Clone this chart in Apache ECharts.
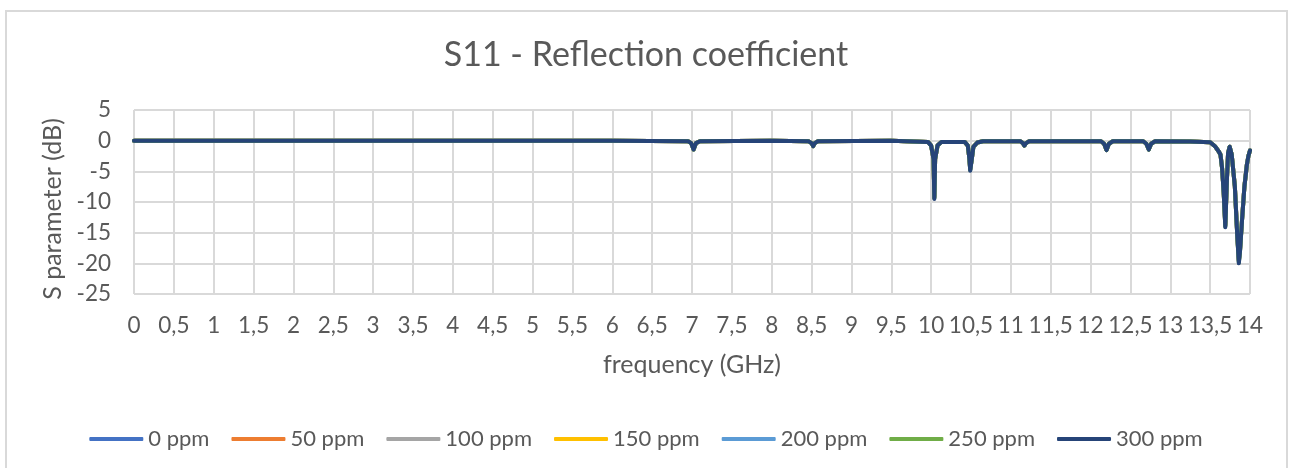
<!DOCTYPE html>
<html>
<head>
<meta charset="utf-8">
<title>S11 - Reflection coefficient</title>
<script src="https://cdn.jsdelivr.net/npm/echarts@6/dist/echarts.min.js"></script>
<style>
  html, body { margin: 0; padding: 0; background: #ffffff; }
  #chart { width: 1292px; height: 468px; }
</style>
</head>
<body>
<div id="chart"></div>
<script>
// Sweep frequencies (GHz)
const frequencyGHz = [
  0, 1, 2, 3, 4, 5, 6,
  6.95, 6.99, 7.02, 7.05, 7.1,
  8,
  8.46, 8.5, 8.52, 8.54, 8.58,
  9.5,
  9.96, 10.0, 10.03, 10.04, 10.05, 10.08, 10.13,
  10.42, 10.46, 10.48, 10.49, 10.51, 10.53, 10.58, 10.65,
  11.12, 11.15, 11.17, 11.19, 11.23,
  12.13, 12.17, 12.2, 12.23, 12.28,
  12.66, 12.7, 12.73, 12.76, 12.81,
  13.25, 13.5, 13.56, 13.61, 13.63, 13.65, 13.67, 13.69, 13.71, 13.725, 13.745,
  13.77, 13.81, 13.84, 13.86, 13.875, 13.9, 13.93, 13.96, 13.98, 14.0
];

// S11 (dB) for each concentration
const s11_0ppm = [
  0, 0, 0, 0, 0, 0, 0,
  -0.1, -0.4, -1.4, -0.4, -0.1,
  0,
  -0.1, -0.4, -0.85, -0.4, -0.1,
  0,
  -0.2, -0.8, -3, -9.0, -3, -0.8, -0.2,
  -0.2, -0.8, -3, -4.6, -3, -1, -0.3, -0.1,
  -0.1, -0.4, -0.75, -0.4, -0.1,
  -0.1, -0.5, -1.5, -0.5, -0.1,
  -0.1, -0.5, -1.4, -0.5, -0.1,
  -0.15, -0.25, -0.9, -1.8, -2.3, -4.5, -8.3, -13.6, -6.4, -2.0, -1.0,
  -2.2, -7.4, -15.2, -19.4, -17.6, -12.8, -7.4, -4, -2.5, -1.6
];
const s11_50ppm = [
  0, 0, 0, 0, 0, 0, 0,
  -0.1, -0.4, -1.4, -0.4, -0.1,
  0,
  -0.1, -0.4, -0.85, -0.4, -0.1,
  0,
  -0.2, -0.8, -3, -9.1, -3, -0.8, -0.2,
  -0.2, -0.8, -3, -4.6, -3, -1, -0.3, -0.1,
  -0.1, -0.4, -0.75, -0.4, -0.1,
  -0.1, -0.5, -1.5, -0.5, -0.1,
  -0.1, -0.5, -1.4, -0.5, -0.1,
  -0.15, -0.25, -0.9, -1.8, -2.3, -4.5, -8.4, -13.7, -6.4, -2.0, -1.0,
  -2.2, -7.4, -15.3, -19.5, -17.7, -12.8, -7.4, -4, -2.5, -1.6
];
const s11_100ppm = [
  0, 0, 0, 0, 0, 0, 0,
  -0.1, -0.4, -1.4, -0.4, -0.1,
  0,
  -0.1, -0.4, -0.9, -0.4, -0.1,
  0,
  -0.2, -0.8, -3, -9.2, -3, -0.8, -0.2,
  -0.2, -0.8, -3, -4.7, -3, -1, -0.3, -0.1,
  -0.1, -0.4, -0.8, -0.4, -0.1,
  -0.1, -0.5, -1.5, -0.5, -0.1,
  -0.1, -0.5, -1.45, -0.5, -0.1,
  -0.15, -0.25, -0.9, -1.8, -2.3, -4.5, -8.4, -13.8, -6.5, -2.0, -1.0,
  -2.2, -7.5, -15.3, -19.6, -17.8, -12.9, -7.5, -4, -2.5, -1.6
];
const s11_150ppm = [
  0, 0, 0, 0, 0, 0, 0,
  -0.1, -0.4, -1.45, -0.4, -0.1,
  0,
  -0.1, -0.4, -0.9, -0.4, -0.1,
  0,
  -0.2, -0.8, -3, -9.3, -3, -0.8, -0.2,
  -0.2, -0.8, -3, -4.7, -3, -1, -0.3, -0.1,
  -0.1, -0.4, -0.8, -0.4, -0.1,
  -0.1, -0.5, -1.55, -0.5, -0.1,
  -0.1, -0.5, -1.45, -0.5, -0.1,
  -0.15, -0.25, -0.9, -1.8, -2.3, -4.5, -8.5, -13.8, -6.5, -2.0, -1.0,
  -2.2, -7.5, -15.4, -19.7, -17.9, -12.9, -7.5, -4, -2.5, -1.6
];
const s11_200ppm = [
  0, 0, 0, 0, 0, 0, 0,
  -0.1, -0.4, -1.45, -0.4, -0.1,
  0,
  -0.1, -0.4, -0.9, -0.4, -0.1,
  0,
  -0.2, -0.8, -3, -9.3, -3, -0.8, -0.2,
  -0.2, -0.8, -3, -4.8, -3, -1, -0.3, -0.1,
  -0.1, -0.4, -0.8, -0.4, -0.1,
  -0.1, -0.5, -1.55, -0.5, -0.1,
  -0.1, -0.5, -1.45, -0.5, -0.1,
  -0.15, -0.25, -0.9, -1.8, -2.3, -4.5, -8.5, -13.9, -6.5, -2.0, -1.0,
  -2.2, -7.5, -15.4, -19.8, -17.9, -13, -7.5, -4, -2.5, -1.6
];
const s11_250ppm = [
  0, 0, 0, 0, 0, 0, 0,
  -0.1, -0.4, -1.45, -0.4, -0.1,
  0,
  -0.1, -0.4, -0.9, -0.4, -0.1,
  0,
  -0.2, -0.8, -3, -9.4, -3, -0.8, -0.2,
  -0.2, -0.8, -3, -4.8, -3, -1, -0.3, -0.1,
  -0.1, -0.4, -0.8, -0.4, -0.1,
  -0.1, -0.5, -1.55, -0.5, -0.1,
  -0.1, -0.5, -1.45, -0.5, -0.1,
  -0.15, -0.25, -0.9, -1.8, -2.3, -4.5, -8.5, -14.0, -6.5, -2.0, -1.0,
  -2.2, -7.5, -15.5, -19.9, -18, -13, -7.5, -4, -2.5, -1.6
];
const s11_300ppm = [
  0, 0, 0, 0, 0, 0, 0,
  -0.1, -0.4, -1.45, -0.4, -0.1,
  0,
  -0.1, -0.4, -0.9, -0.4, -0.1,
  0,
  -0.2, -0.8, -3, -9.5, -3, -0.8, -0.2,
  -0.2, -0.8, -3, -4.9, -3, -1, -0.3, -0.1,
  -0.1, -0.4, -0.8, -0.4, -0.1,
  -0.1, -0.5, -1.55, -0.5, -0.1,
  -0.1, -0.5, -1.45, -0.5, -0.1,
  -0.15, -0.25, -0.9, -1.8, -2.3, -4.5, -8.5, -14.1, -6.5, -2.0, -1.0,
  -2.2, -7.5, -15.5, -20.0, -18, -13, -7.5, -4, -2.5, -1.6
];

const seriesNames = ['0 ppm', '50 ppm', '100 ppm', '150 ppm', '200 ppm', '250 ppm', '300 ppm'];
const seriesValues = [s11_0ppm, s11_50ppm, s11_100ppm, s11_150ppm, s11_200ppm, s11_250ppm, s11_300ppm];
const seriesColors = ['#4472C4', '#ED7D31', '#A5A5A5', '#FFC000', '#5B9BD5', '#70AD47', '#264478'];

const FONT = 'Lato, "Open Sans", sans-serif';
const TEXT = '#595959';
const GRID = '#D9D9D9';

const chart = echarts.init(document.getElementById('chart'), null, { renderer: 'canvas' });

const series = seriesNames.map((name, i) => ({
  name,
  type: 'line',
  data: frequencyGHz.map((f, k) => [f, seriesValues[i][k]]),
  showSymbol: false,
  symbol: 'none',
  color: seriesColors[i],
  lineStyle: { width: 4, color: seriesColors[i], cap: 'round', join: 'round' },
  emphasis: { disabled: true },
  z: 2 + i
}));

chart.setOption({
  animation: false,
  backgroundColor: '#ffffff',
  textStyle: { fontFamily: FONT },
  title: {
    text: 'S11 - Reflection coefficient',
    left: 'center',
    top: 33,
    textStyle: { fontFamily: FONT, fontSize: 34, fontWeight: 'normal', color: TEXT }
  },
  graphic: [{
    type: 'rect',
    shape: { x: 6, y: 11, width: 1281, height: 480 },
    style: { fill: 'none', stroke: GRID, lineWidth: 2 },
    silent: true,
    z: -10
  }],
  legend: {
    data: seriesNames,
    left: 'center',
    top: 423,
    icon: 'roundRect',
    itemWidth: 54,
    itemHeight: 4,
    itemGap: 22,
    textStyle: { fontFamily: FONT, fontSize: 22, color: TEXT }
  },
  grid: { left: 134, right: 42, top: 110, bottom: 174, containLabel: false },
  xAxis: {
    type: 'value',
    min: 0,
    max: 14,
    interval: 0.5,
    name: 'frequency (GHz)',
    nameLocation: 'middle',
    nameGap: 58,
    nameTextStyle: { fontFamily: FONT, fontSize: 25, color: TEXT },
    axisLine: { show: false },
    axisTick: { show: false },
    axisLabel: {
      fontFamily: FONT, fontSize: 22.5, color: TEXT, margin: 20,
      formatter: v => String(v).replace('.', ',')
    },
    splitLine: { show: true, lineStyle: { color: GRID, width: 2 } }
  },
  yAxis: {
    type: 'value',
    min: -25,
    max: 5,
    interval: 5,
    name: 'S parameter (dB)',
    nameLocation: 'middle',
    nameGap: 62,
    nameTextStyle: { fontFamily: FONT, fontSize: 25, color: TEXT, padding: [0, 14, 0, 0] },
    axisLine: { show: false },
    axisTick: { show: false },
    axisLabel: { fontFamily: FONT, fontSize: 22.5, color: TEXT, margin: 23 },
    splitLine: { show: true, lineStyle: { color: GRID, width: 2 } }
  },
  series
});
</script>
</body>
</html>
